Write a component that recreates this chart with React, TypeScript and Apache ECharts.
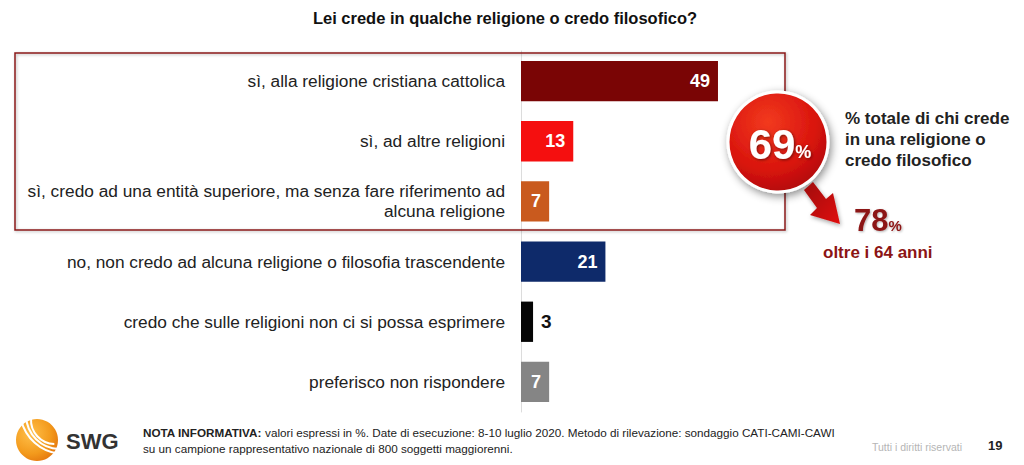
import React, { useEffect, useRef } from "react";
import * as echarts from "echarts";

const categories = [
  "sì, alla religione cristiana cattolica",
  "sì, ad altre religioni",
  "sì, credo ad una entità superiore, ma senza fare riferimento ad\nalcuna religione",
  "no, non credo ad alcuna religione o filosofia trascendente",
  "credo che sulle religioni non ci si possa esprimere",
  "preferisco non rispondere",
];
const values = [49, 13, 7, 21, 3, 7];
const barColors = ["#7a0505", "#f50f0f", "#c95a1e", "#0e2a6a", "#050505", "#858585"];
const outsideLabel = [false, false, false, false, true, false];

const title = "Lei crede in qualche religione o credo filosofico?";
const totalBelievers = "69";
const over64 = "78";
const noteLine1 =
  "valori espressi in %. Date di esecuzione: 8-10 luglio 2020. Metodo di rilevazione: sondaggio CATI-CAMI-CAWI";
const noteLine2 = "su un campione rappresentativo nazionale di 800 soggetti maggiorenni.";

const FONT = "'Liberation Sans', Arial, sans-serif";

export default function App() {
  const ref = useRef<HTMLDivElement>(null);
  useEffect(() => {
    if (!ref.current) return;
    const chart = echarts.init(ref.current, undefined, { renderer: "svg" });
    const data = values.map((v, i) => ({
      value: v,
      itemStyle: { color: barColors[i] },
      label: outsideLabel[i]
        ? { position: "right", color: "#111", distance: 8, fontSize: 19 }
        : { position: "insideRight", color: "#fff", distance: 8 },
    }));
    chart.setOption({
      animation: false,
      backgroundColor: "#fff",
      textStyle: { fontFamily: FONT },
      grid: { left: 521, top: 51, width: 402, height: 361 },
      xAxis: { type: "value", min: 0, max: 100, show: false },
      yAxis: {
        type: "category",
        inverse: true,
        data: categories,
        axisLine: { show: true, lineStyle: { color: "#dcdcdc", width: 1 } },
        axisTick: { show: false },
        axisLabel: {
          color: "#222",
          fontSize: 17.3,
          fontFamily: FONT,
          margin: 16,
          lineHeight: 20,
          align: "right",
        },
      },
      series: [
        {
          type: "bar",
          data,
          barCategoryGap: "33%",
          label: {
            show: true,
            fontSize: 18,
            fontWeight: "bold",
            fontFamily: FONT,
          },
          z: 3,
        },
      ],
      graphic: [
        {
          type: "text",
          x: 505,
          y: 9,
          style: { text: title, font: `bold 16.5px ${FONT}`, fill: "#111", align: "center" },
        },
        {
          type: "rect",
          shape: { x: 15, y: 53, width: 770, height: 177 },
          style: {
            fill: "none",
            stroke: "#8a1818",
            lineWidth: 1.5,
            shadowBlur: 3,
            shadowColor: "rgba(0,0,0,0.3)",
            shadowOffsetX: 1,
            shadowOffsetY: 1,
          },
          z: 1,
        },
        {
          type: "circle",
          shape: { cx: 778, cy: 142, r: 50 },
          style: {
            fill: new echarts.graphic.RadialGradient(0.4, 0.3, 0.8, [
              { offset: 0, color: "#f23a1e" },
              { offset: 0.6, color: "#d9140e" },
              { offset: 1, color: "#a60808" },
            ]),
            stroke: "#fff",
            lineWidth: 3,
            shadowBlur: 8,
            shadowColor: "rgba(0,0,0,0.45)",
            shadowOffsetX: 2,
            shadowOffsetY: 3,
          },
          z: 10,
        },
        {
          type: "text",
          x: 780,
          y: 144,
          style: {
            text: `{a|${totalBelievers}}{b|%}`,
            align: "center",
            verticalAlign: "middle",
            rich: {
              a: { font: `bold 42px ${FONT}`, fill: "#fff" },
              b: { font: `bold 18px ${FONT}`, fill: "#fff", padding: [16, 0, 0, 0] },
            },
            textShadowBlur: 3,
            textShadowColor: "rgba(0,0,0,0.5)",
            textShadowOffsetX: 1,
            textShadowOffsetY: 1,
          },
          z: 11,
        },
        {
          type: "text",
          x: 845,
          y: 108,
          style: {
            text: "% totale di chi crede\nin una religione o\ncredo filosofico",
            font: `bold 17px ${FONT}`,
            lineHeight: 21,
            fill: "#222",
          },
          z: 10,
        },
        {
          type: "polygon",
          shape: {
            points: [
              [804, 190],
              [813, 182],
              [826, 199],
              [833, 193],
              [840, 224],
              [810, 215],
              [817, 208],
            ],
          },
          style: {
            fill: new echarts.graphic.LinearGradient(0, 0, 1, 1, [
              { offset: 0, color: "#a00808" },
              { offset: 1, color: "#e01010" },
            ]),
            shadowBlur: 4,
            shadowColor: "rgba(0,0,0,0.35)",
            shadowOffsetX: 1,
            shadowOffsetY: 2,
          },
          z: 10,
        },
        {
          type: "text",
          x: 854,
          y: 220,
          style: {
            text: `{a|${over64}}{b|%}`,
            verticalAlign: "middle",
            rich: {
              a: { font: `bold 31px ${FONT}`, fill: "#8c1414" },
              b: { font: `bold 15px ${FONT}`, fill: "#8c1414", padding: [10, 0, 0, 0] },
            },
            textShadowBlur: 2,
            textShadowColor: "rgba(0,0,0,0.3)",
            textShadowOffsetX: 1,
            textShadowOffsetY: 1,
          },
          z: 10,
        },
        {
          type: "text",
          x: 823,
          y: 244,
          style: { text: "oltre i 64 anni", font: `bold 17px ${FONT}`, fill: "#8c1414" },
          z: 10,
        },
        // footer logo
        {
          type: "circle",
          shape: { cx: 37, cy: 440, r: 21 },
          style: {
            fill: new echarts.graphic.RadialGradient(0.35, 0.35, 0.8, [
              { offset: 0, color: "#ffc04a" },
              { offset: 0.6, color: "#f39a1c" },
              { offset: 1, color: "#e06d0a" },
            ]),
          },
        },
        {
          type: "arc",
          shape: { cx: 55, cy: 420, r: 24, startAngle: 1.6, endAngle: 3.2 },
          style: { stroke: "#fff", lineWidth: 2, fill: "none" },
        },
        {
          type: "arc",
          shape: { cx: 60, cy: 415, r: 34, startAngle: 1.6, endAngle: 3.1 },
          style: { stroke: "#fff", lineWidth: 2, fill: "none" },
        },
        {
          type: "arc",
          shape: { cx: 64, cy: 410, r: 44, startAngle: 1.7, endAngle: 2.9 },
          style: { stroke: "#fff", lineWidth: 2, fill: "none" },
        },
        {
          type: "text",
          x: 66,
          y: 430,
          style: { text: "SWG", font: `bold 22px ${FONT}`, fill: "#333" },
        },
        {
          type: "text",
          x: 143,
          y: 424,
          style: {
            text: `{b|NOTA INFORMATIVA:} ${noteLine1}\n${noteLine2}`,
            font: `11.7px ${FONT}`,
            fill: "#222",
            lineHeight: 16,
            rich: { b: { font: `bold 11.7px ${FONT}`, fill: "#222" } },
          },
        },
        {
          type: "text",
          x: 872,
          y: 441,
          style: { text: "Tutti i diritti riservati", font: `10.5px ${FONT}`, fill: "#b5b5b5" },
        },
        {
          type: "text",
          x: 988,
          y: 439,
          style: { text: "19", font: `bold 13px ${FONT}`, fill: "#222" },
        },
      ],
    });
    return () => chart.dispose();
  }, []);
  return <div ref={ref} style={{ width: 1024, height: 465, position: "fixed", left: 0, top: 0 }} />;
}
